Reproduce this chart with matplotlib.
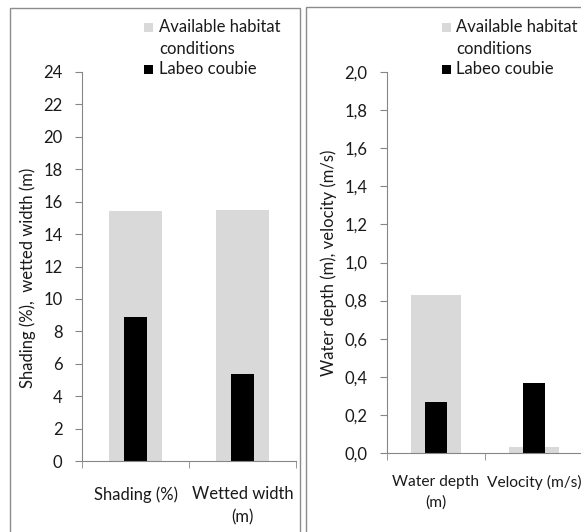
import matplotlib
matplotlib.use('Agg')
import matplotlib.pyplot as plt
from matplotlib.patches import Rectangle
from matplotlib.ticker import FuncFormatter, FixedLocator

# left panel
cats_left=['Shading (%)','Wetted width\n(m)']
avail_left=[15.45,15.5]
labeo_left=[8.87,5.37]
# right panel
cats_right=['Water depth\n(m)','Velocity (m/s)']
avail_right=[0.83,0.03]
labeo_right=[0.27,0.37]
legend_labels=['Available habitat\nconditions','Labeo coubie']
c_avail='#d9d9d9'
c_labeo='#000000'

plt.rcParams['font.family']=['Lato','DejaVu Sans']
W,H=581,532
FS=12
fig=plt.figure(figsize=(W/100,H/100),dpi=100)

def px(x0,y0,x1,y1):
    # pixel box (top-left origin) -> figure fraction rect
    return [x0/W,1-y1/H,(x1-x0)/W,(y1-y0)/H]

# panel frames
fig.patches.append(Rectangle((10/W,-0.01),290/W,1-8/H+0.01,transform=fig.transFigure,
                             fill=False,edgecolor='#8c8c8c',linewidth=1))
fig.patches.append(Rectangle((306/W,-0.01),0.5,1-7/H+0.01,transform=fig.transFigure,
                             fill=False,edgecolor='#8c8c8c',linewidth=1))

def style(ax,ylim,yticks,fmt,cats,ylabel,wg,wb,avail,labeo,xpad,ls,xfs):
    x=range(len(cats))
    ax.bar(x,avail,width=wg,color=c_avail,zorder=1)
    ax.bar(x,labeo,width=wb,color=c_labeo,zorder=2)
    ax.set_xlim(-0.5,len(cats)-0.5)
    ax.set_ylim(*ylim)
    ax.set_yticks(yticks)
    ax.yaxis.set_major_formatter(FuncFormatter(fmt))
    ax.set_xticks(list(x))
    ax.set_xticklabels(cats,fontsize=xfs,color='#1a1a1a',linespacing=ls)
    ax.xaxis.set_minor_locator(FixedLocator([-0.5,0.5,1.5]))
    ax.tick_params(axis='x',which='major',length=0,pad=xpad)
    ax.tick_params(axis='x',which='minor',length=5,color='#868686',direction='out')
    ax.tick_params(axis='y',length=5,color='#868686',labelsize=FS,labelcolor='#1a1a1a',pad=9)
    for s in ['top','right']:
        ax.spines[s].set_visible(False)
    for s in ['left','bottom']:
        ax.spines[s].set_color('#868686')
    ax.set_ylabel(ylabel,fontsize=FS,color='#1a1a1a')

ax1=fig.add_axes(px(82,72,296,461))
style(ax1,(0,24),range(0,25,2),lambda v,p:f'{v:.0f}',cats_left,
      'Shading (%),  wetted width (m)',0.5,0.21,avail_left,labeo_left,18,1.55,FS)
ax1.yaxis.set_label_coords((36-82)/214,0.47)

ax2=fig.add_axes(px(387,72,583,453))
style(ax2,(0,2.0),[i*0.2 for i in range(11)],lambda v,p:f'{v:.1f}'.replace('.',','),cats_right,
      'Water depth (m), velocity (m/s)',0.52,0.22,avail_right,labeo_right,16,1.55,11.2)
ax2.yaxis.set_label_coords((337-387)/196,0.5)

# legends
for sx,tx in [(144,159),(442,456)]:
    for (yc,lab,col) in [(27,legend_labels[0],c_avail),(69,legend_labels[1],c_labeo)]:
        fig.patches.append(Rectangle((sx/W,1-(yc+4.5)/H),9/W,9/H,transform=fig.transFigure,
                                     facecolor=col,edgecolor='none'))
        fig.text(tx/W,1-(yc-8)/H,lab,fontsize=FS,color='#1a1a1a',va='top',ha='left',linespacing=1.45)

fig.savefig('out.png',dpi=100)
